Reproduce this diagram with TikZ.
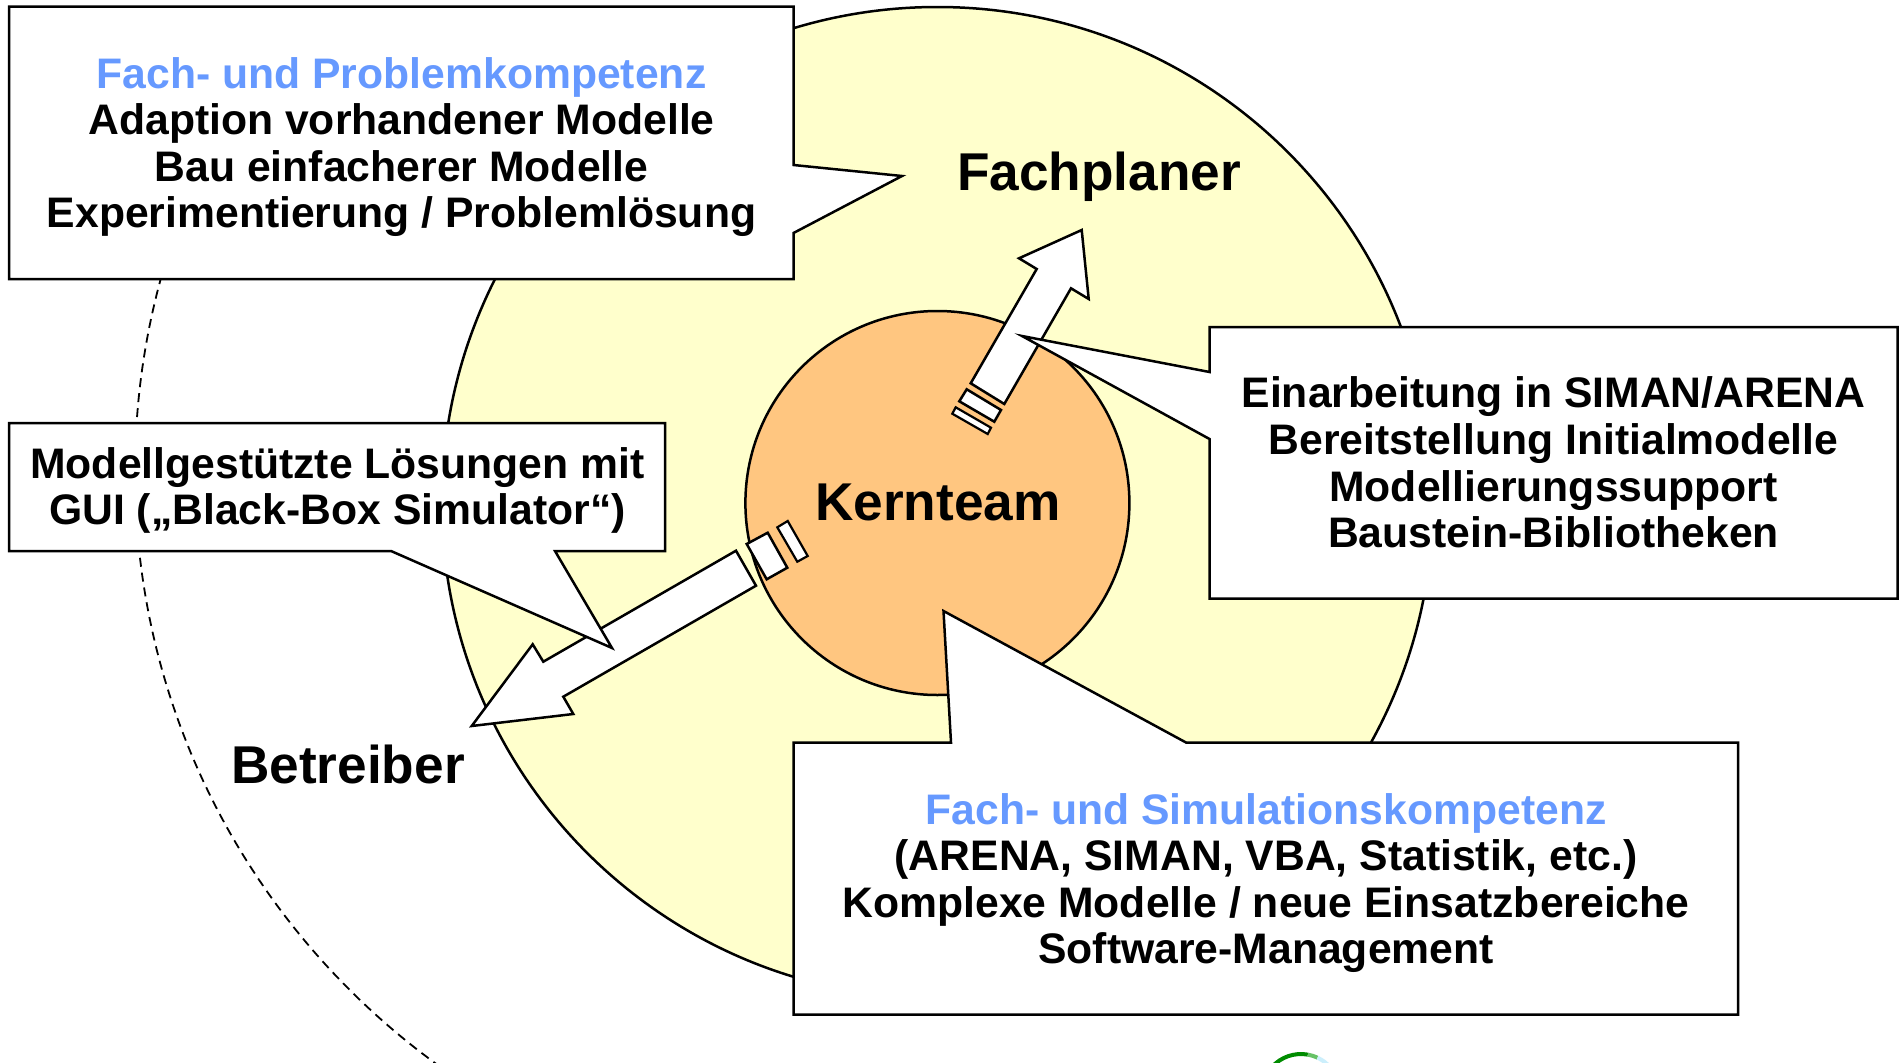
\documentclass[tikz,border=0pt]{standalone}
\usepackage{fontspec}
\setmainfont{Liberation Sans}
\definecolor{paleyellow}{RGB}{255,255,204}
\definecolor{coreorange}{RGB}{255,198,128}
\definecolor{headblue}{RGB}{102,153,255}
\newcommand{\boxfont}{\fontsize{42.7}{46.6}\selectfont\bfseries}
\newcommand{\bigfont}{\fontsize{53.2}{60}\selectfont\bfseries}
\tikzset{
  shapeline/.style={draw=black,line width=2.5pt,line join=miter,fill=white},
  boxtext/.style={align=center,inner sep=0pt,font=\boxfont},
  bigtext/.style={inner sep=0pt,font=\bigfont}
}
\begin{document}
\begin{tikzpicture}[x=1pt,y=-1pt]
\useasboundingbox (0,0) rectangle (1904,1063);
\clip (0,0) rectangle (1904,1063);
\fill[white] (0,0) rectangle (1904,1063);
% dashed outer ring (left part only)
\begin{scope}
\clip (0,150) rectangle (600,1063);
\draw[black,line width=1.8pt,dash pattern=on 9pt off 6pt] (867,472) circle[radius=732];
\end{scope}
% circles
\draw[black,line width=2.5pt,fill=paleyellow] (937.4,502.5) circle[radius=495.5];
\draw[black,line width=2.5pt,fill=coreorange] (937.4,503) circle[radius=192];
% arrow to Fachplaner
\draw[shapeline] (1081.7,230) -- (1088.7,299) -- (1071,288.3) -- (1004.3,404) -- (970.7,383.3) -- (1036.7,269) -- (1019,258.3) -- cycle;
\draw[shapeline] (966.7,389.3) -- (1001,410) -- (994.3,421.7) -- (959.3,401.3) -- cycle;
\draw[shapeline,line width=2.2pt] (955.7,407.3) -- (991,427.7) -- (987.7,434) -- (952.3,413.7) -- cycle;
% arrow to Betreiber
\draw[shapeline] (471.7,726) -- (532.7,644.3) -- (543.3,661.7) -- (736,550.7) -- (756,585.7) -- (563.3,696.7) -- (573.3,714) -- cycle;
\draw[shapeline] (746.7,544) -- (767.7,532.7) -- (787.3,567.7) -- (766.7,579.3) -- cycle;
\draw[shapeline,line width=2.2pt] (777.3,527.3) -- (787.7,521) -- (807.7,556) -- (797.3,561.7) -- cycle;
% callouts
\draw[shapeline] (9,6.5) -- (793.5,6.5) -- (793.5,165) -- (902,176) -- (793.5,233) -- (793.5,279) -- (9,279) -- cycle;
\draw[shapeline] (1209.5,327) -- (1897.5,327) -- (1897.5,598.5) -- (1209.5,598.5) -- (1209.5,439) -- (1022,336) -- (1209.5,372) -- cycle;
\draw[shapeline] (9,423) -- (665,423) -- (665,551) -- (555,551) -- (612,648) -- (391,551) -- (9,551) -- cycle;
\draw[shapeline] (793.5,742.5) -- (951,742.5) -- (943.5,611) -- (1186,742.5) -- (1738,742.5) -- (1738,1014.5) -- (793.5,1014.5) -- cycle;
% logo fragment at the bottom edge
\draw[line width=4pt,green!55!black] (1301,1093) ++(222:39) arc[start angle=222,end angle=280,radius=39];
\draw[line width=4pt,green!60!black!60] (1301,1093) ++(280:39) arc[start angle=280,end angle=295,radius=39];
\draw[line width=4pt,cyan!20] (1301,1093) ++(295:39) arc[start angle=295,end angle=320,radius=39];
% texts
\node[boxtext] (fachproblem) at (401.5,147) {\textcolor{headblue}{Fach- und Problemkompetenz}\\Adaption vorhandener Modelle\\Bau einfacherer Modelle\\Experimentierung / Problemlösung};
\node[boxtext] (support) at (1553.5,462.5) {Einarbeitung in SIMAN/ARENA\\Bereitstellung Initialmodelle\\Modellierungssupport\\Baustein-Bibliotheken};
\node[boxtext] (gui) at (337.5,490.5) {Modellgestützte Lösungen mit\\GUI („Black-Box Simulator“)};
\node[boxtext] (fachsim) at (1266,883) {\textcolor{headblue}{Fach- und Simulationskompetenz}\\(ARENA, SIMAN, VBA, Statistik, etc.)\\Komplexe Modelle / neue Einsatzbereiche\\Software-Management};
\node[bigtext] (fachplaner) at (1099,177) {Fachplaner};
\node[bigtext] (kernteam) at (938,502) {Kernteam};
\node[bigtext] (betreiber) at (348,764) {Betreiber};
\end{tikzpicture}
\end{document}
